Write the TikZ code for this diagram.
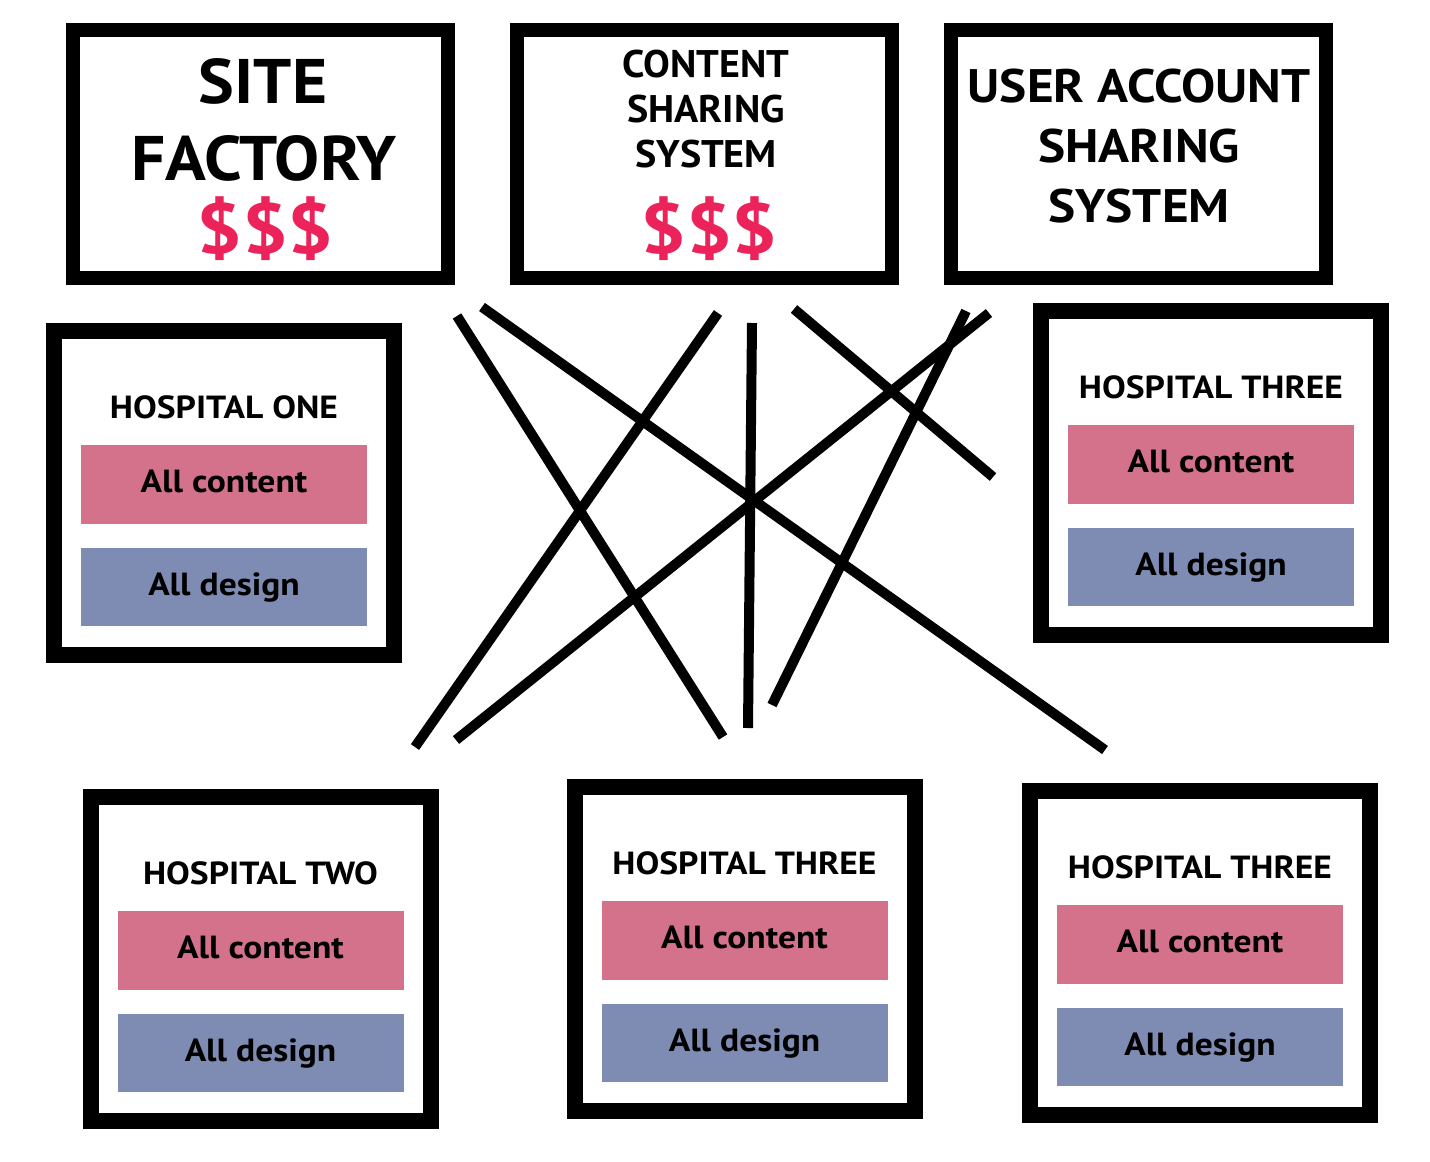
\documentclass[tikz,border=0pt]{standalone}
\usepackage{fontspec}
\setmainfont{PT Sans}
\newfontfamily\sffam[FakeStretch=1.07]{PT Sans}
\newfontfamily\cssfam[FakeStretch=1.04]{PT Sans}
\newfontfamily\uasfam[FakeStretch=1.09]{PT Sans}
\newfontfamily\dolfam[FakeStretch=1.14]{PT Sans}
\newfontfamily\hfam[FakeStretch=1.11]{PT Sans}
\definecolor{pinkc}{HTML}{D4718B}
\definecolor{bluec}{HTML}{7E8BB3}
\definecolor{dollarc}{HTML}{EC235A}
\newcommand\sffont{\sffam\fontsize{63}{70}\selectfont\bfseries}
\newcommand\cssfont{\cssfam\fontsize{38.5}{44}\selectfont\bfseries}
\newcommand\uasfont{\uasfam\fontsize{47}{54}\selectfont\bfseries}
\newcommand\dolfont{\dolfam\fontsize{71}{76}\selectfont\bfseries}
\newcommand\hfont{\hfam\fontsize{32}{38}\selectfont\bfseries}
\newcommand\hosp[4]{%
  \node[hospbox] (#1) at (#2,{#3+170}) {};
  \node[htitle] (#1-t) at (#2,{#3+95}) {#4};
  \node[contentbar] (#1-c) at (#2,{#3+161.5}) {All content};
  \node[designbar] (#1-d) at (#2,{#3+264}) {All design};
}
\tikzset{
  topbox/.style={draw=black, line width=14pt, fill=white, minimum width=375pt, minimum height=248pt, inner sep=0pt},
  hospbox/.style={draw=black, line width=16pt, fill=white, minimum width=340pt, minimum height=324pt, inner sep=0pt},
  bar/.style={minimum width=286pt, inner sep=0pt, text height=16pt, text depth=0pt, font=\hfont, text=black},
  contentbar/.style={bar, fill=pinkc, minimum height=79pt},
  designbar/.style={bar, fill=bluec, minimum height=78pt},
  htitle/.style={anchor=base, inner sep=0pt, font=\hfont},
  sftext/.style={anchor=base, inner sep=0pt, font=\sffont},
  csstext/.style={anchor=base, inner sep=0pt, font=\cssfont},
  uastext/.style={anchor=base, inner sep=0pt, font=\uasfont},
  dollars/.style={anchor=base, inner sep=0pt, font=\dolfont, text=dollarc},
  link/.style={line width=10pt, draw=black}
}
\begin{document}
\begin{tikzpicture}[x=1pt,y=-1pt]
\useasboundingbox[fill=white] (0,0) rectangle (1430,1162);
% top boxes
\node[topbox] (sf) at (260.5,154) {};
\node[sftext] (sf-1) at (263,103) {SITE};
\node[sftext] (sf-2) at (264,180) {FACTORY};
\node[dollars] (sf-3) at (265,253) {\$\$\$};
\node[topbox] (css) at (704,154) {};
\node[csstext] (css-1) at (706,77) {CONTENT};
\node[csstext] (css-2) at (706,122) {SHARING};
\node[csstext] (css-3) at (706,167) {SYSTEM};
\node[dollars] (css-4) at (709,253) {\$\$\$};
\node[topbox] (uas) at (1138.5,154) {};
\node[uastext] (uas-1) at (1139,102) {USER ACCOUNT};
\node[uastext] (uas-2) at (1139,162) {SHARING};
\node[uastext] (uas-3) at (1139,222) {SYSTEM};
% hospitals
\hosp{h1}{224}{323}{HOSPITAL ONE}
\hosp{h3r}{1211}{303}{HOSPITAL THREE}
\hosp{h2}{260.5}{789}{HOSPITAL TWO}
\hosp{h3m}{744.5}{779}{HOSPITAL THREE}
\hosp{h3b}{1200}{783}{HOSPITAL THREE}
% crossing lines
\coordinate (a1) at (457,316); \coordinate (b1) at (723,737);
\coordinate (a2) at (482,307); \coordinate (b2) at (1105,750);
\coordinate (a3) at (718,313); \coordinate (b3) at (415,747);
\coordinate (a4) at (752,323); \coordinate (b4) at (748,728);
\coordinate (a5) at (794,309); \coordinate (b5) at (993,477);
\coordinate (a6) at (989,313); \coordinate (b6) at (456,740);
\coordinate (a7) at (966,311); \coordinate (b7) at (772,705);
\foreach \i in {1,...,7} { \draw[link] (a\i) -- (b\i); }
\end{tikzpicture}
\end{document}
